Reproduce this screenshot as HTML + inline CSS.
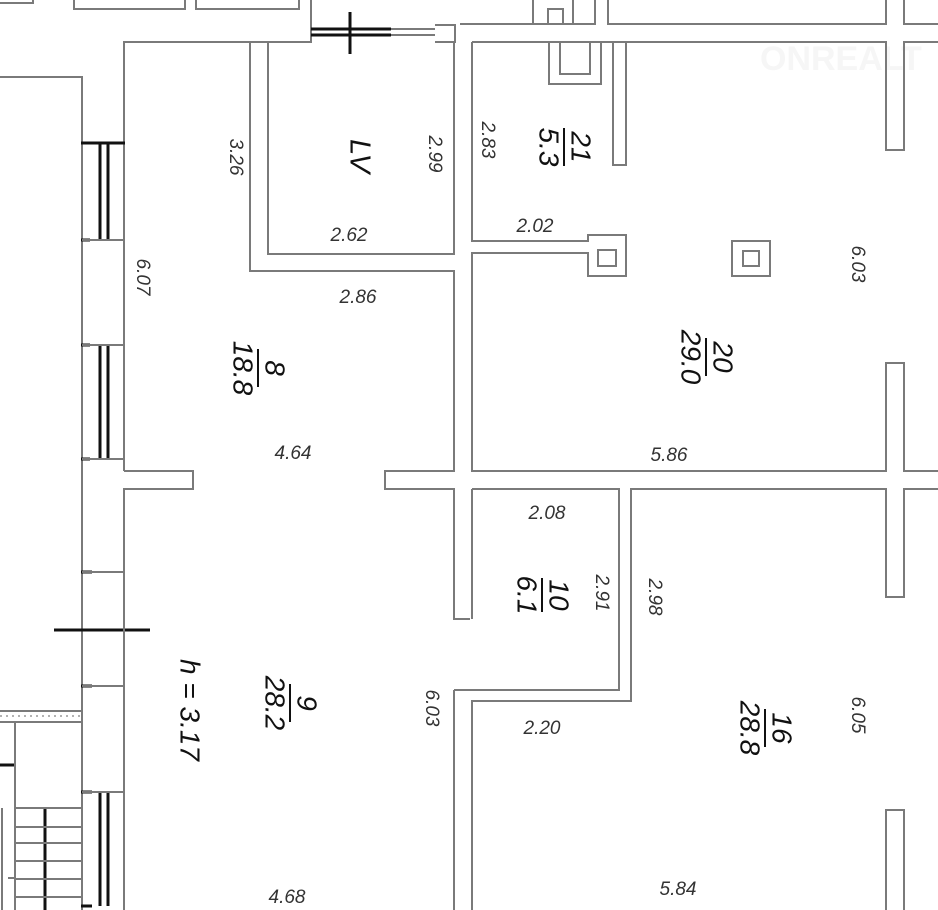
<!DOCTYPE html>
<html><head><meta charset="utf-8"><style>
html,body{margin:0;padding:0;background:#fff}
svg{display:block}
.w{stroke:#7a7a7a;stroke-width:2;fill:none}
.k{stroke:#111;fill:none}
.d{font-family:"Liberation Sans",sans-serif;font-style:italic;font-size:19px;fill:#333}
.r{font-family:"Liberation Sans",sans-serif;font-style:italic;font-size:28px;fill:#111}
</style></head><body>
<svg width="938" height="910" viewBox="0 0 938 910" xmlns="http://www.w3.org/2000/svg">
<path class="w" d="M0 3H33V0M74 0V9H185V0M196 0V9H299V0"/>
<path class="w" d="M124 471V42H311V0M435 25H455V42H435"/>
<text x="760" y="70" font-family="Liberation Sans,sans-serif" font-weight="bold" font-size="34" fill="#f6f6f6">ONREALT</text>
<path class="k" stroke-width="3" d="M311 29H391M311 35H391"/>
<path class="w" stroke-width="1" d="M391 29H435M391 35H435"/>
<path class="k" stroke-width="3" d="M350 12V54"/>
<path class="w" d="M460 24H595V0M533 24V0M548 24V9H563V24M573 24V0M608 0V24H886V0M904 0V24H938"/>
<path class="w" d="M472 42H886V150H904V42H938"/>
<path class="w" d="M0 77H82V910"/>
<g class="k" stroke-width="3">
<path d="M81 143H125M100 143V240M108 143V240M81 240H90"/>
<path d="M81 345H90M100 345V459M108 345V459M81 459H90"/>
<path d="M81 572H92M81 686H92M100 792V906M108 792V906M81 792H92M81 906H92"/>
<path d="M54 630H150"/>
<path d="M0 765H14M45 808V910"/>
</g>
<path class="w" stroke-width="1" d="M82 240H124M82 345H124M82 459H124M82 572H124M82 686H124M82 792H124"/>
<path class="w" stroke-width="1.5" d="M0 711H82M0 722H82M15 722V910M15 808H82M15 827H82M15 843H82M15 861H82M15 879H82M15 897H82M2 808V910M8 878H15"/>
<path stroke="#666" stroke-width="1" stroke-dasharray="2 4" d="M0 716H82"/>
<path class="w" d="M250 42V271H454V471H385V489H454V619H470M268 42V254H454V42M124 471H193V489H124V910"/>
<path class="w" d="M454 690V910"/>
<path class="w" d="M472 42V241H588V235H626V276H588V253H472V471H886V363H904V471H938"/>
<rect class="w" x="598" y="250" width="18" height="16"/>
<rect class="w" x="732" y="241" width="38" height="35"/>
<rect class="w" x="743" y="251" width="16" height="15"/>
<path class="w" d="M549 42V84H601V42M560 42V74H590V42"/>
<path class="w" d="M613 42V165H626V42"/>
<path class="w" d="M472 489H619V690H454M472 489V619"/>
<path class="w" d="M472 910V701H631V489H886V597H904V489H938M886 910V810H904V910"/>
<g class="d" text-anchor="middle">
<text x="349" y="241">2.62</text>
<text x="358" y="303">2.86</text>
<text x="293" y="459">4.64</text>
<text x="535" y="232">2.02</text>
<text x="669" y="461">5.86</text>
<text x="547" y="519">2.08</text>
<text x="542" y="734">2.20</text>
<text x="678" y="895">5.84</text>
<text x="287" y="903">4.68</text>
</g>
<g class="d" text-anchor="middle" dominant-baseline="middle">
<text transform="translate(235,157) rotate(90)">3.26</text>
<text transform="translate(142,277) rotate(90)">6.07</text>
<text transform="translate(434,154) rotate(90)">2.99</text>
<text transform="translate(487,140) rotate(90)">2.83</text>
<text transform="translate(857,264) rotate(90)">6.03</text>
<text transform="translate(601,593) rotate(90)">2.91</text>
<text transform="translate(654,597) rotate(90)">2.98</text>
<text transform="translate(857,715) rotate(90)">6.05</text>
<text transform="translate(431,708) rotate(90)">6.03</text>
</g>
<g class="r" text-anchor="middle" dominant-baseline="middle">
<text transform="translate(358,156) rotate(90)" font-size="29">LV</text>
<text transform="translate(188,710) rotate(90)" font-size="28">h = 3.17</text>
<g transform="translate(258,368) rotate(90)"><text y="-15">8</text><text y="17">18.8</text><line x1="-19" x2="19" stroke="#111" stroke-width="2"/></g>
<g transform="translate(564,147) rotate(90)"><text y="-15">21</text><text y="17">5.3</text><line x1="-19" x2="19" stroke="#111" stroke-width="2"/></g>
<g transform="translate(706,357) rotate(90)"><text y="-15">20</text><text y="17">29.0</text><line x1="-19" x2="19" stroke="#111" stroke-width="2"/></g>
<g transform="translate(542,595) rotate(90)"><text y="-15">10</text><text y="17">6.1</text><line x1="-17" x2="17" stroke="#111" stroke-width="2"/></g>
<g transform="translate(290,703) rotate(90)"><text y="-15">9</text><text y="17">28.2</text><line x1="-19" x2="19" stroke="#111" stroke-width="2"/></g>
<g transform="translate(765,728) rotate(90)"><text y="-15">16</text><text y="17">28.8</text><line x1="-19" x2="19" stroke="#111" stroke-width="2"/></g>
</g>
</svg>
</body></html>
